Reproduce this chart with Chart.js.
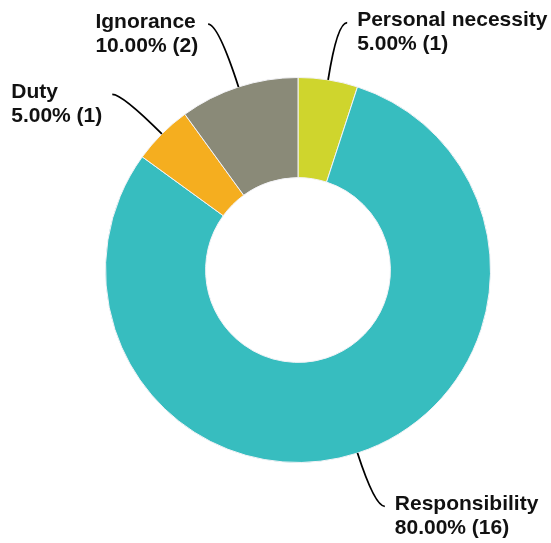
<!DOCTYPE html>
<html>
<head>
<meta charset="utf-8">
<script src="https://cdn.jsdelivr.net/npm/chart.js@4"></script>
<style>
  html, body { margin: 0; padding: 0; background: #fff; }
  #wrap { width: 551px; height: 543px; }
</style>
</head>
<body>
<div id="wrap"><canvas id="chart" width="551" height="543"></canvas></div>
<script>
var labels = ['Personal necessity', 'Responsibility', 'Duty', 'Ignorance'];
var counts = [1, 16, 1, 2];
var colors = ['#cfd52d', '#37bdbf', '#f5ae1f', '#8a8a78'];

var total = counts.reduce(function (a, b) { return a + b; }, 0);

// leader lines + two line labels outside the ring
var outsideLabels = {
    id: 'outsideLabels',
    afterDatasetsDraw: function (chart) {
        var ctx = chart.ctx;
        var meta = chart.getDatasetMeta(0);
        var lens = [58, 56, 56, 66];
        ctx.save();
        meta.data.forEach(function (arc, i) {
            var p = arc.getProps(['x', 'y', 'startAngle', 'endAngle', 'outerRadius'], true);
            var mid = (p.startAngle + p.endAngle) / 2;
            var cx = Math.cos(mid), cy = Math.sin(mid);
            var x0 = p.x + cx * p.outerRadius, y0 = p.y + cy * p.outerRadius;
            var ex = p.x + cx * (p.outerRadius + lens[i]);
            var ey = p.y + cy * (p.outerRadius + lens[i]);
            var side = cx >= 0 ? 1 : -1;
            var x1 = ex + side * 10, y1 = ey;

            ctx.beginPath();
            ctx.moveTo(x0, y0);
            ctx.quadraticCurveTo(ex, ey, x1, y1);
            ctx.strokeStyle = '#000';
            ctx.lineWidth = 1.8;
            ctx.stroke();

            var line1 = labels[i];
            var line2 = (counts[i] / total * 100).toFixed(2) + '% (' + counts[i] + ')';
            ctx.font = 'bold 21px "Liberation Sans", Arial, sans-serif';
            ctx.fillStyle = '#111';
            ctx.textBaseline = 'middle';
            ctx.textAlign = 'left';
            var w = Math.max(ctx.measureText(line1).width, ctx.measureText(line2).width);
            var tx = side > 0 ? x1 + 10 : x1 - 10 - w;
            ctx.fillText(line1, tx, y1 - 2);
            ctx.fillText(line2, tx, y1 + 22);
        });
        ctx.restore();
    }
};

var ctx = document.getElementById('chart').getContext('2d');
var pollChart = new Chart(ctx, {
    type: 'doughnut',
    data: {
        labels: labels,
        datasets: [{
            data: counts,
            backgroundColor: colors,
            borderColor: '#f2f2f6',
            borderWidth: 1
        }]
    },
    options: {
        responsive: false,
        animation: false,
        cutout: '48%',
        layout: { padding: { top: 77, bottom: 80, left: 105, right: 60 } },
        plugins: {
            legend: { display: false },
            tooltip: { enabled: false }
        }
    },
    plugins: [outsideLabels]
});
</script>
</body>
</html>
